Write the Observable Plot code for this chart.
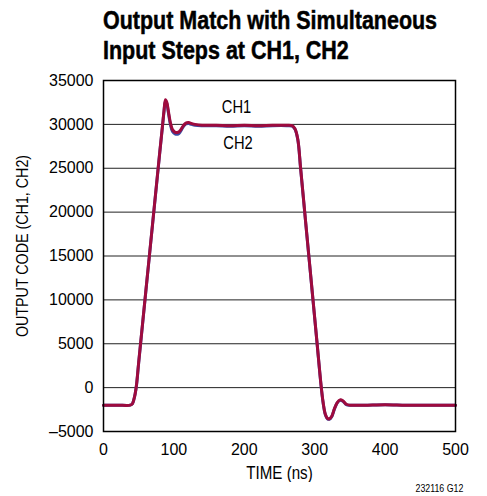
<!DOCTYPE html>
<html>
<head>
<meta charset="utf-8">
<script src="https://cdn.jsdelivr.net/npm/d3@7"></script>
<script src="https://cdn.jsdelivr.net/npm/@observablehq/plot@0.6"></script>
<style>
  html, body { margin: 0; padding: 0; background: #fff; width: 487px; height: 496px; overflow: hidden; }
  #title { position: relative; height: 68px; box-sizing: border-box; padding: 6px 0 0 103px;
    font-family: "Liberation Sans", Arial, sans-serif; font-weight: bold;
    font-size: 26px; line-height: 29.5px; color: #000; white-space: nowrap;
    -webkit-text-stroke: 0.5px #000; }
  #title span { display: inline-block; transform: scaleX(0.826); transform-origin: 0 50%; }
  #chart { position: absolute; left: 0; top: 68px; }
  #caption { position: absolute; left: 0; top: 483px; width: 463px; text-align: right;
    font-family: "Liberation Sans", Arial, sans-serif; font-size: 10px; color: #000; }
  #caption span { display: inline-block; transform: scaleX(0.88); transform-origin: 100% 50%; }
</style>
</head>
<body>
<div id="title"><span>Output Match with Simultaneous</span><br><span>Input Steps at CH1, CH2</span></div>
<div id="chart"></div>
<div id="caption"><span>232116 G12</span></div>
<script>
// ---- data ----
const timeNs = [0,20,38,41,43,45,47,50,60,70,80,84,86,88,90,92,95,98,102,106,109,113,117,121,125,130,140,160,180,200,220,240,260,268,272,276,280,287,295,303,309,312,315,318,321,324,328,332,336,340,345,350,370,400,430,460,500];
const ch1 = [-2000,-2000,-2000,-1850,-1400,-700,400,2900,10900,18900,26900,30000,31600,32800,32500,31600,30200,29400,29100,29100,29300,29800,30150,30200,30100,30000,29900,29900,29850,29900,29850,29900,29900,29850,29500,28300,25000,19000,12200,5400,300,-1700,-3000,-3500,-3550,-3300,-2400,-1700,-1400,-1500,-1900,-2000,-2000,-1950,-2000,-2000,-2000];
const ch2 = [-2000,-2000,-2000,-1850,-1400,-700,350,2850,10850,18850,26850,29950,31500,32650,32350,31400,30000,29200,28900,28900,29150,29700,30050,30100,30000,29900,29850,29850,29800,29850,29800,29850,29850,29800,29450,28250,24950,18950,12150,5350,250,-1750,-3050,-3550,-3600,-3350,-2450,-1750,-1450,-1550,-1950,-2000,-2000,-1950,-2000,-2000,-2000];
const xTicks = [0,100,200,300,400,500];
const yTicks = [-5000,0,5000,10000,15000,20000,25000,30000,35000];
const seriesNames = ["CH1","CH2"];
const seriesColors = ["#9e0b3e","#3b4ca3"];
const labelTime = [189, 191];
const labelValue = [31980, 27880];
const xLabel = "TIME (ns)";
const yLabel = "OUTPUT CODE (CH1, CH2)";

const rows1 = timeNs.map((t,i) => ({t, v: ch1[i]}));
const rows2 = timeNs.map((t,i) => ({t, v: ch2[i]}));
const chLabels = seriesNames.map((s,i) => ({s, t: labelTime[i], v: labelValue[i]}));
const sans = "Liberation Sans, Arial, sans-serif";

const chart = Plot.plot({
  width: 487, height: 414,
  marginTop: 12, marginLeft: 103, marginRight: 32, marginBottom: 51,
  x: {domain: [0, 500]},
  y: {domain: [-5000, 35000]},
  style: {fontFamily: sans, fontSize: "16px", color: "#000", background: "#fff"},
  marks: [
    Plot.gridY(yTicks, {stroke: "#222", strokeOpacity: 1, strokeWidth: 1}),
    Plot.axisY(yTicks, {tickSize: 0, tickPadding: 10, label: null, tickFormat: d => d < 0 ? "\u2013" + String(-d) : String(d), fontSize: 16}),
    Plot.axisX(xTicks, {tickSize: 0, tickPadding: 12, label: null, tickFormat: d => String(d), fontSize: 16}),
    Plot.line(rows2, {x: "t", y: "v", stroke: seriesColors[1], strokeWidth: 3, curve: "catmull-rom"}),
    Plot.line(rows1, {x: "t", y: "v", stroke: seriesColors[0], strokeWidth: 3, curve: "catmull-rom"}),
    Plot.frame({stroke: "#000", strokeWidth: 1.5}),
    Plot.text(chLabels, {x: "t", y: "v", text: "s", fontSize: 17.5, fill: "#000", className: "condensed"}),
    Plot.text([xLabel], {frameAnchor: "bottom", lineAnchor: "middle", textAnchor: "middle", dy: 41.5, fontSize: 18, fill: "#000", className: "condensed"}),
    Plot.text([yLabel], {frameAnchor: "left", lineAnchor: "middle", textAnchor: "middle", rotate: -90, dx: -81, dy: -10, fontSize: 17, fill: "#000", className: "condensed"})
  ]
});
document.getElementById("chart").appendChild(chart);
// condensed look (the reference uses a narrow face)
chart.querySelectorAll(".condensed text").forEach(el => {
  const w = el.getComputedTextLength();
  el.setAttribute("textLength", (w * 0.84).toFixed(1));
  el.setAttribute("lengthAdjust", "spacingAndGlyphs");
});
</script>
</body>
</html>
